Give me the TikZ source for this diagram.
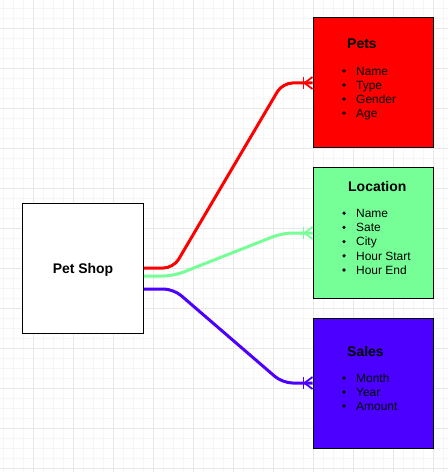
\documentclass[tikz,border=0pt]{standalone}
\usepackage{fontspec}
\setmainfont{Liberation Sans}
\usepackage{tikz}
\usetikzlibrary{positioning, calc, backgrounds}
\usepackage{xcolor}
\definecolor{petred}{RGB}{255,0,0}
\definecolor{locgreen}{RGB}{117,255,150}
\definecolor{salesblue}{RGB}{76,0,255}
\definecolor{gridminor}{RGB}{245,245,245}
\definecolor{gridmajor}{RGB}{232,232,232}

\tikzset{
  entity/.style={draw=black, line width=1bp, minimum width=120bp, minimum height=130bp, inner sep=0pt},
  heading/.style={font=\fontsize{14}{16}\selectfont\bfseries, anchor=west, inner sep=0pt, text height=10bp, text depth=0pt},
  item/.style={font=\fontsize{12}{14}\selectfont, anchor=west, inner sep=0pt, text height=8.6bp, text depth=0pt},
  dot/.style={circle, fill=black, minimum size=3.6bp, inner sep=0pt},
  relation/.style={line width=3bp, rounded corners=10bp},
  crowfoot/.style={line width=1.8bp},
}

\begin{document}
\begin{tikzpicture}[x=1bp, y=-1bp]
\useasboundingbox (0,0) rectangle (448,472);

% Grid paper
\begin{scope}[on background layer]
\fill[white] (0,0) rectangle (448,472);
\foreach \x in {3,13,...,443} {
    \draw[gridminor, line width=0.8bp] (\x,0) -- (\x,472);
}
\foreach \y in {8,18,...,468} {
    \draw[gridminor, line width=0.8bp] (0,\y) -- (448,\y);
}
\foreach \x in {33,73,...,433} {
    \draw[gridmajor, line width=0.8bp] (\x,0) -- (\x,472);
}
\foreach \y in {28,68,...,468} {
    \draw[gridmajor, line width=0.8bp] (0,\y) -- (448,\y);
}
\end{scope}

% Entities
\node[entity, fill=white, font=\fontsize{14}{16}\selectfont\bfseries, text height=10bp, text depth=0pt] (shop) at (83,268.5) {Pet Shop};
\node[entity, fill=petred] (pets) at (373,83) {};
\node[entity, fill=locgreen] (loc) at (373,233) {};
\node[entity, fill=salesblue] (sales) at (373,383) {};

% Headings
\node[heading] (petstitle) at (347,44) {Pets};
\node[heading] (loctitle) at (348,187) {Location};
\node[heading] (salestitle) at (347,351) {Sales};

% Attribute lists
\foreach \txt [count=\i] in {Name, Type, Gender, Age} {
    \node[item] (pets-\i) at (356,57+14*\i) {\txt};
    \node[dot, left=10bp of pets-\i] {};
}
\foreach \txt [count=\i] in {Name, Sate, City, Hour Start, Hour End} {
    \node[item] (loc-\i) at (356,199+14.2*\i) {\txt};
    \node[dot, left=10bp of loc-\i] {};
}
\foreach \txt [count=\i] in {Month, Year, Amount} {
    \node[item] (sales-\i) at (356,364+14*\i) {\txt};
    \node[dot, left=10bp of sales-\i] {};
}

% Relations (one to many)
\begin{scope}[on background layer]
\foreach \ent/\col/\dy in {pets/petred/-0.5bp, loc/locgreen/7.5bp, sales/salesblue/20.5bp} {
    \draw[relation, draw=\col] ([yshift=-\dy]shop.east) -- ++(30,0)
        -- ($(\ent.west)+(-30,0)$) -- (\ent.west);
    \draw[crowfoot, draw=\col] ($(\ent.west)+(-9,-6)$) -- ($(\ent.west)+(-9,6)$);
    \draw[crowfoot, draw=\col] ($(\ent.west)+(0,-6)$) -- ($(\ent.west)+(-8,0)$) -- ($(\ent.west)+(0,6)$);
}
\end{scope}

\end{tikzpicture}
\end{document}
